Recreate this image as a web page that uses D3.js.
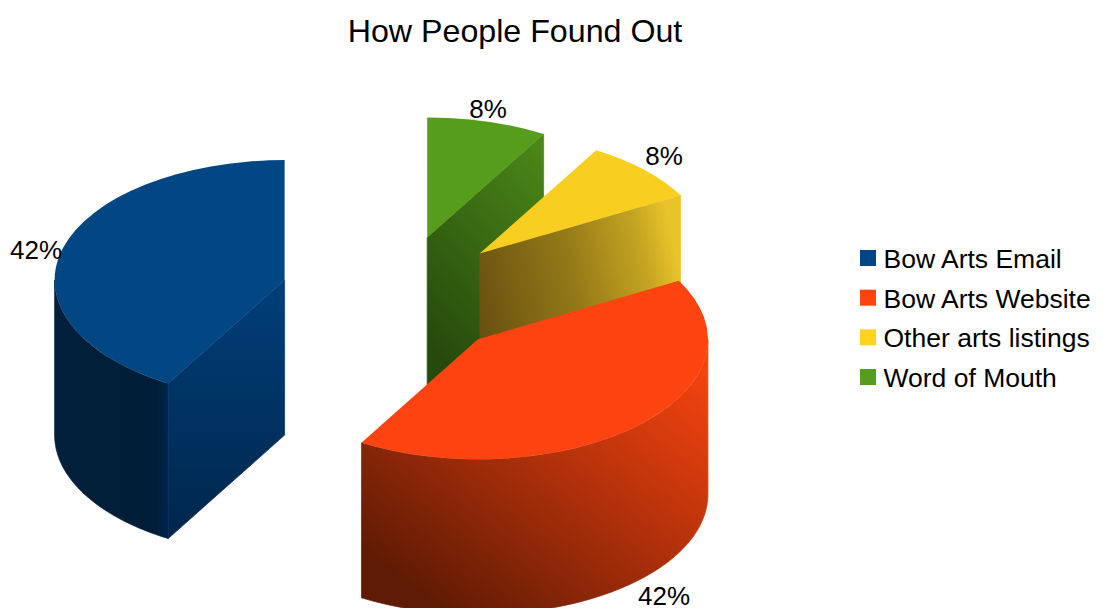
<!DOCTYPE html>
<html>
<head>
<meta charset="utf-8">
<title>How People Found Out</title>
<script src="https://cdnjs.cloudflare.com/ajax/libs/d3/7.8.5/d3.min.js"></script>
<style>
  html, body { margin: 0; padding: 0; background: #fff; overflow: hidden; }
  svg { display: block; }
  text { font-family: "Liberation Sans", Arial, sans-serif; fill: #000; }
</style>
</head>
<body>
<svg id="chart" width="1103" height="608"></svg>
<script>
// Survey shares, listed in pie order (running anticlockwise from twelve o'clock).
const categories = ["Bow Arts Email", "Bow Arts Website", "Other arts listings", "Word of Mouth"];
const shares = [41.55, 41.55, 8.45, 8.45];
const titleText = "How People Found Out";

// Slice colours and shading.
const topColours = ["#024684", "#fd430f", "#f8ce20", "#579d1c"];
const legendColours = ["#004586", "#ff420e", "#ffd320", "#579d1c"];
const wallStops = [
  { v: [0, 0, 1, 0], s: [[0, "#021f3b"], [0.9, "#001d38"], [1, "#00264e"]] },
  { v: [0.18, 0.93, 0.95, 0.1], s: [[0, "#601b04"], [0.42, "#a02c09"], [0.72, "#cc380c"], [1, "#f0430f"]] },
  null,
  null
];
const cutStops = [
  { v: [0, 0, 0, 1], s: [[0, "#003f79"], [1, "#00264c"]] },
  null,
  { v: [0, 0.62, 1, 0.38], s: [[0, "#695010"], [0.5, "#957a18"], [0.85, "#c6a522"], [1, "#e8c42a"]] },
  { v: [0.9, 0, 0.4, 1], s: [[0, "#4b8718"], [1, "#264a0c"]] }
];

// Pie geometry.
const centre = { x: 396.7, y: 296 };
const rx = 230, ry = 120, depth = 155, explode = 0.505;
const paintOrder = [3, 2, 0, 1];

// Label positions, one per slice.
const labelSpots = [
  { x: 36, y: 259 },
  { x: 664, y: 605 },
  { x: 664, y: 165 },
  { x: 488, y: 118 }
];

const svg = d3.select("#chart");
const defs = svg.append("defs");

const slices = d3.pie().sort(null).startAngle(0).endAngle(-2 * Math.PI)(shares);

// Each slice is pushed outward along its own mid-angle.
const sliceCentre = d => {
  const mid = (d.startAngle + d.endAngle) / 2;
  return {
    x: centre.x + explode * rx * Math.sin(mid),
    y: centre.y - explode * ry * Math.cos(mid)
  };
};
const rimPoint = (c, a, drop = 0) => [c.x + rx * Math.sin(a), c.y - ry * Math.cos(a) + drop];

const line = d3.line();
const topArc = d3.arc().innerRadius(0).outerRadius(rx);

function gradient(id, spec) {
  const g = defs.append("linearGradient").attr("id", id)
    .attr("x1", spec.v[0]).attr("y1", spec.v[1]).attr("x2", spec.v[2]).attr("y2", spec.v[3]);
  g.selectAll("stop").data(spec.s).join("stop")
    .attr("offset", d => d[0]).attr("stop-color", d => d[1]);
  return `url(#${id})`;
}

const pieLayer = svg.append("g");

paintOrder.forEach(i => {
  const d = slices[i];
  const c = sliceCentre(d);
  const g = pieLayer.append("g");
  const a0 = -d.startAngle, a1 = -d.endAngle;   // anticlockwise angles from the top

  // Curved outer wall: only the part on the viewer's side of the ellipse.
  const from = Math.max(a0, Math.PI / 2), to = Math.min(a1, 3 * Math.PI / 2);
  if (to > from && wallStops[i]) {
    const steps = d3.range(0, 61).map(k => -(from + (to - from) * k / 60));
    const pts = steps.map(a => rimPoint(c, a))
      .concat(steps.slice().reverse().map(a => rimPoint(c, a, depth)));
    const paint = gradient(`wall${i}`, wallStops[i]);
    g.append("path").attr("d", line(pts) + "Z")
      .attr("fill", paint).attr("stroke", paint).attr("stroke-width", 0.7);
  }

  // Flat cut faces that turn towards the viewer.
  const faces = [];
  if (Math.sin(a1) > 0.001) faces.push(-a1);
  if (Math.sin(a0) < -0.001) faces.push(-a0);
  faces.forEach((a, n) => {
    const rim = rimPoint(c, a);
    const pts = [[c.x, c.y], rim, [rim[0], rim[1] + depth], [c.x, c.y + depth]];
    const paint = gradient(`cut${i}${n}`, cutStops[i]);
    g.append("path").attr("d", line(pts) + "Z")
      .attr("fill", paint).attr("stroke", paint).attr("stroke-width", 0.7);
  });

  // Top surface: a circular sector squashed into the tilt of the pie.
  g.append("path")
    .attr("d", topArc({ startAngle: d.startAngle, endAngle: d.endAngle }))
    .attr("transform", `translate(${c.x},${c.y}) scale(1,${ry / rx})`)
    .attr("fill", topColours[i]);
});

// Title.
svg.append("text")
  .attr("x", 515).attr("y", 42)
  .attr("text-anchor", "middle")
  .attr("font-size", 32.2)
  .text(titleText);

// Percentage labels.
const total = d3.sum(shares);
svg.append("g").selectAll("text").data(shares).join("text")
  .attr("x", (d, i) => labelSpots[i].x)
  .attr("y", (d, i) => labelSpots[i].y)
  .attr("text-anchor", "middle")
  .attr("font-size", 26)
  .text(d => d3.format(".0%")(d / total));

// Legend.
const legendY = d3.scalePoint().domain(categories).range([258, 377]);
const legend = svg.append("g").selectAll("g").data(categories).join("g")
  .attr("transform", d => `translate(860,${legendY(d)})`);
legend.append("rect")
  .attr("x", 0).attr("y", -8).attr("width", 16).attr("height", 16)
  .attr("fill", (d, i) => legendColours[i]);
legend.append("text")
  .attr("x", 23.5).attr("y", 10)
  .attr("font-size", 26.5)
  .text(d => d);
</script>
</body>
</html>
